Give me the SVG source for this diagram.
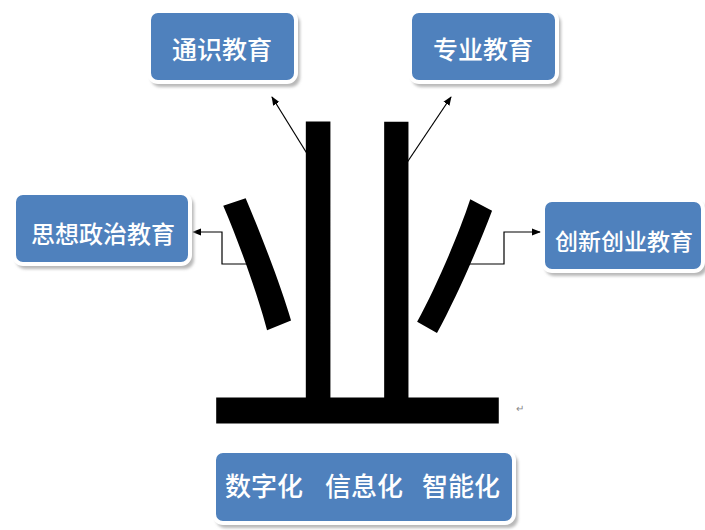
<svg xmlns="http://www.w3.org/2000/svg" width="705" height="530" viewBox="0 0 705 530">
<style>
.box{fill:#4F81BD;stroke:#ffffff;stroke-width:4}
.sh{fill:#b8b8b8;filter:url(#blur)}
.lbl{font-family:"Noto Sans CJK SC","Noto Sans",sans-serif;font-size:25px;font-weight:500;fill:#ffffff;text-anchor:middle;dominant-baseline:central}
.con{fill:none;stroke:#000;stroke-width:1.2}
</style>
<defs>
<filter id="blur" x="-10%" y="-10%" width="120%" height="130%"><feGaussianBlur stdDeviation="1.5"/></filter>
<marker id="ah" viewBox="0 0 10 10" refX="9" refY="5" markerWidth="9" markerHeight="9" markerUnits="userSpaceOnUse" orient="auto"><path d="M0,1 L10,5 L0,9 z" fill="#000"/></marker>
</defs>
<rect width="705" height="530" fill="#ffffff"/>
<g id="big-char">
<text x="357" y="400" transform="matrix(1 0 0 1.103 0 -27.6)" font-family="Noto Sans CJK SC,sans-serif" font-size="320" font-weight="400" fill="#000" text-anchor="middle">业</text>
<text x="516" y="412" font-family="Liberation Sans,sans-serif" font-size="10" fill="#888">↵</text>
</g>
<g id="connectors">
<path class="con" d="M311,160 L272,97" marker-end="url(#ah)"/>
<path class="con" d="M404,167 L451,97" marker-end="url(#ah)"/>
<path class="con" d="M255,264 L222,264 L222,232 L193,232" marker-end="url(#ah)"/>
<path class="con" d="M468,264 L504,264 L504,232 L540,232" marker-end="url(#ah)"/>
</g>
<g id="n-tongshi">
<rect class="sh" x="151" y="14" width="149" height="73" rx="9"/>
<rect class="box" x="149" y="11" width="147" height="71" rx="9"/>
<text class="lbl" x="222" y="48">通识教育</text>
</g>
<g id="n-zhuanye">
<rect class="sh" x="412" y="14" width="149" height="73" rx="9"/>
<rect class="box" x="410" y="11" width="147" height="71" rx="9"/>
<text class="lbl" x="483" y="48">专业教育</text>
</g>
<g id="n-sixiang">
<rect class="sh" x="16" y="196" width="178" height="73" rx="9"/>
<rect class="box" x="14" y="193" width="176" height="71" rx="9"/>
<text class="lbl" x="103" y="232" style="font-size:24px">思想政治教育</text>
</g>
<g id="n-chuangxin">
<rect class="sh" x="545" y="203" width="162" height="73" rx="9"/>
<rect class="box" x="543" y="200" width="160" height="71" rx="9"/>
<text class="lbl" x="624" y="240" style="font-size:23px">创新创业教育</text>
</g>
<g id="n-shuzi">
<rect class="sh" x="216" y="454" width="302" height="74" rx="9"/>
<rect class="box" x="214" y="451" width="300" height="72" rx="9"/>
<text class="lbl" x="264" y="484" style="font-size:26px">数字化</text>
<text class="lbl" x="364" y="484" style="font-size:26px">信息化</text>
<text class="lbl" x="461" y="484" style="font-size:26px">智能化</text>
</g>
</svg>
